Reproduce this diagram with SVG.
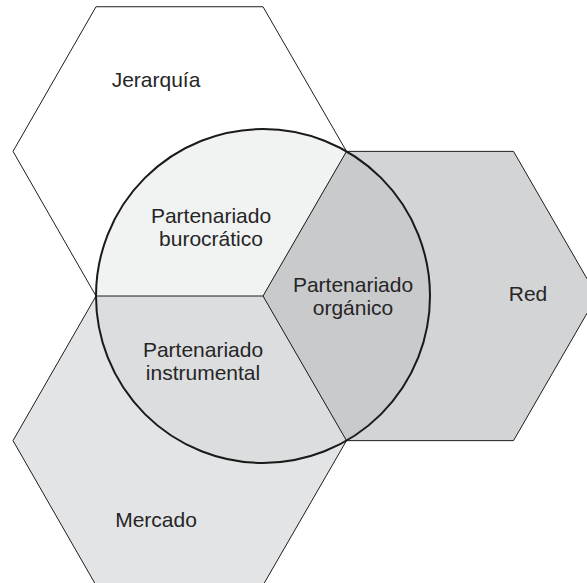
<svg xmlns="http://www.w3.org/2000/svg" width="587" height="583" viewBox="0 0 587 583">
  <style>
    .hex { stroke: #1e1e1e; stroke-width: 1; stroke-linejoin: miter; }
    .sector { stroke: none; }
    .divider { stroke: #1e1e1e; stroke-width: 1; fill: none; }
    .ring { fill: none; stroke: #1a1a1a; stroke-width: 2; }
    text { font-family: "Liberation Sans", Arial, sans-serif; font-size: 21px; fill: #262626; text-anchor: middle; }
  </style>
  <rect width="587" height="583" fill="#ffffff"/>

  <!-- Hexagons: side 167, all meeting at (263,296) -->
  <g id="jerarquia">
    <polygon class="hex" fill="#ffffff" points="13,151.37 96,6.74 263,6.74 346.5,151.37 263,296 96,296"/>
    <text x="156" y="87">Jerarquía</text>
  </g>
  <g id="red">
    <polygon class="hex" fill="#d3d4d6" points="263,296 346.5,151.37 513.5,151.37 597,296 513.5,440.63 346.5,440.63"/>
    <text x="528" y="301">Red</text>
  </g>
  <g id="mercado">
    <polygon class="hex" fill="#e3e4e5" points="13,440.63 96,296 263,296 346.5,440.63 263,585.26 96,585.26"/>
    <text x="156" y="527">Mercado</text>
  </g>

  <!-- Circle sectors, radius 167 around (263,296) -->
  <g id="burocratico">
    <path class="sector" fill="#f1f2f2" d="M263,296 L96,296 A167,167 0 0 1 346.5,151.37 Z"/>
    <text x="211" y="223">Partenariado</text>
    <text x="211" y="246">burocrático</text>
  </g>
  <g id="organico">
    <path class="sector" fill="#c9cacc" d="M263,296 L346.5,151.37 A167,167 0 0 1 346.5,440.63 Z"/>
    <text x="353" y="292">Partenariado</text>
    <text x="353" y="315">orgánico</text>
  </g>
  <g id="instrumental">
    <path class="sector" fill="#dcddde" d="M263,296 L346.5,440.63 A167,167 0 0 1 96,296 Z"/>
    <text x="203" y="357">Partenariado</text>
    <text x="203" y="380">instrumental</text>
  </g>

  <!-- Hexagon edges crossing the circle, and the circle outline -->
  <g id="connectors">
    <path class="divider" d="M96,296 L263,296 L346.5,151.37 M263,296 L346.5,440.63"/>
    <circle class="ring" cx="263" cy="296" r="167"/>
  </g>
</svg>
